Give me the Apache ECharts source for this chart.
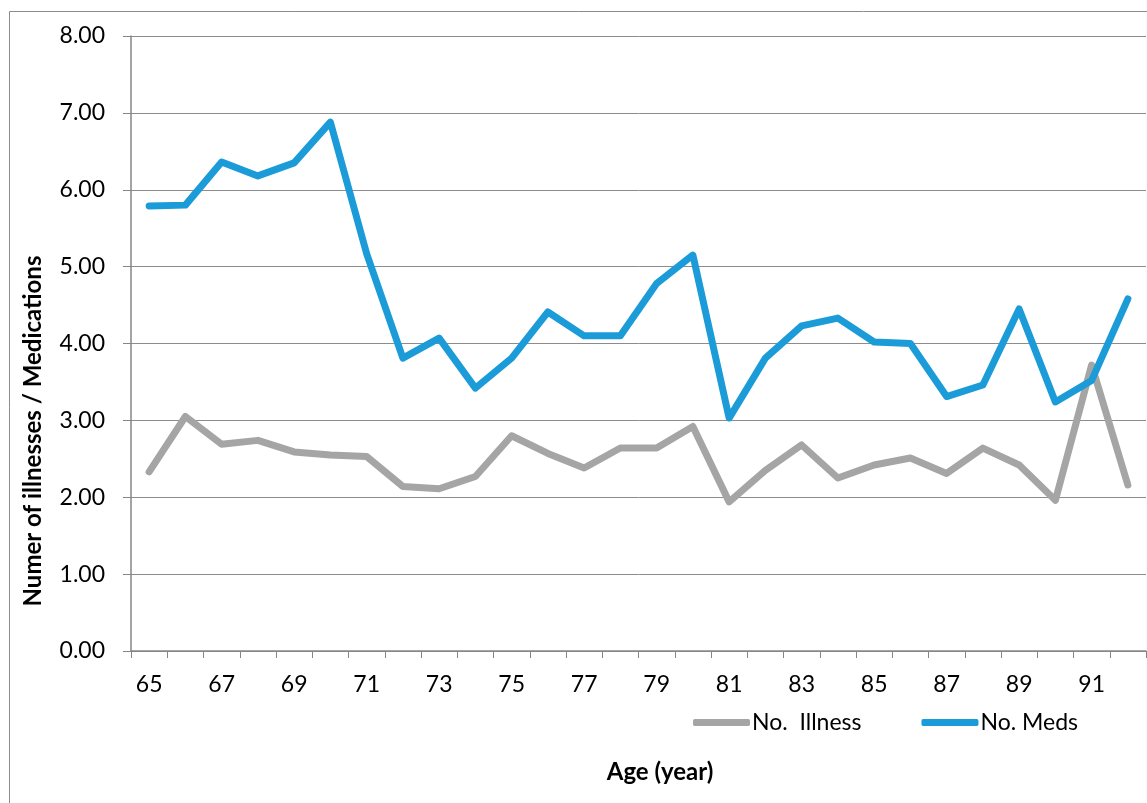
<!DOCTYPE html>
<html>
<head>
<meta charset="utf-8">
<title>Illnesses and medications by age</title>
<script src="https://cdn.jsdelivr.net/npm/echarts@6/dist/echarts.min.js"></script>
<style>
  html, body { margin: 0; padding: 0; background: #fff; }
  #chart { width: 1147px; height: 803px; }
</style>
</head>
<body>
<div id="chart"></div>
<script>
// Age categories (years)
const ages = ['65','66','67','68','69','70','71','72','73','74','75','76','77','78',
              '79','80','81','82','83','84','85','86','87','88','89','90','91','92'];

// Average number of illnesses per age
const illness = [2.33, 3.05, 2.69, 2.74, 2.59, 2.55, 2.53, 2.14, 2.11, 2.27,
                 2.80, 2.57, 2.38, 2.64, 2.64, 2.92, 1.94, 2.35, 2.68, 2.25,
                 2.42, 2.51, 2.31, 2.64, 2.42, 1.96, 3.72, 2.16];

// Average number of medications per age
const meds = [5.79, 5.80, 6.36, 6.18, 6.35, 6.88, 5.17, 3.81, 4.07, 3.42,
              3.81, 4.41, 4.10, 4.10, 4.78, 5.15, 3.03, 3.81, 4.23, 4.33,
              4.02, 4.00, 3.31, 3.46, 4.45, 3.24, 3.52, 4.58];

const seriesNames = ['No.  Illness', 'No. Meds'];
const xTitle = 'Age (year)';
const yTitle = 'Numer of illnesses / Medications';

const FONT = 'Lato, "Open Sans", sans-serif';
const GREY = '#a5a5a5';
const BLUE = '#1b9cd8';
const AXIS = '#868686';

const chart = echarts.init(document.getElementById('chart'), null, { renderer: 'canvas' });

chart.setOption({
  backgroundColor: '#ffffff',
  animation: false,
  grid: { left: 131, right: 1, top: 36, bottom: 152, containLabel: false },
  legend: {
    left: 693,
    top: 711,
    padding: 0,
    itemWidth: 57,
    itemHeight: 7,
    itemGap: 60,
    icon: 'roundRect',
    textStyle: { fontFamily: FONT, fontSize: 23, color: '#000', padding: [0, 0, 0, -3] },
    data: seriesNames
  },
  xAxis: {
    type: 'category',
    data: ages,
    boundaryGap: true,
    axisLine: { show: true, lineStyle: { color: AXIS, width: 1.5 } },
    axisTick: { show: true, interval: 0, length: 7, lineStyle: { color: AXIS, width: 1 } },
    axisLabel: { interval: 1, margin: 22, fontFamily: FONT, fontSize: 23, color: '#000' },
    splitLine: { show: false }
  },
  yAxis: {
    type: 'value',
    min: 0,
    max: 8,
    interval: 1,
    axisLine: { show: true, lineStyle: { color: AXIS, width: 1.5 } },
    axisTick: { show: true, length: 8, lineStyle: { color: AXIS, width: 1 } },
    axisLabel: {
      margin: 26,
      fontFamily: FONT,
      fontSize: 23,
      color: '#000',
      formatter: v => v.toFixed(2)
    },
    splitLine: { show: true, lineStyle: { color: '#8c8c8c', width: 1 } }
  },
  graphic: [
    {
      type: 'rect',
      shape: { x: 9.5, y: 11.5, width: 1200, height: 900 },
      style: { fill: 'none', stroke: '#8c8c8c', lineWidth: 1 },
      silent: true
    },
    {
      type: 'text',
      x: 660, y: 772,
      style: {
        text: xTitle, fontFamily: FONT, fontSize: 24, fontWeight: 'bold',
        fill: '#000', align: 'center', verticalAlign: 'middle'
      }
    },
    {
      type: 'text',
      x: 33, y: 431,
      rotation: Math.PI / 2,
      style: {
        text: yTitle, fontFamily: FONT, fontSize: 24, fontWeight: 'bold',
        fill: '#000', align: 'center', verticalAlign: 'middle'
      }
    }
  ],
  series: [
    {
      name: seriesNames[0],
      type: 'line',
      data: illness,
      showSymbol: false,
      symbol: 'none',
      lineStyle: { color: GREY, width: 7, cap: 'round', join: 'round' },
      itemStyle: { color: GREY },
      z: 2
    },
    {
      name: seriesNames[1],
      type: 'line',
      data: meds,
      showSymbol: false,
      symbol: 'none',
      lineStyle: { color: BLUE, width: 7, cap: 'round', join: 'round' },
      itemStyle: { color: BLUE },
      z: 3
    }
  ]
});
</script>
</body>
</html>
